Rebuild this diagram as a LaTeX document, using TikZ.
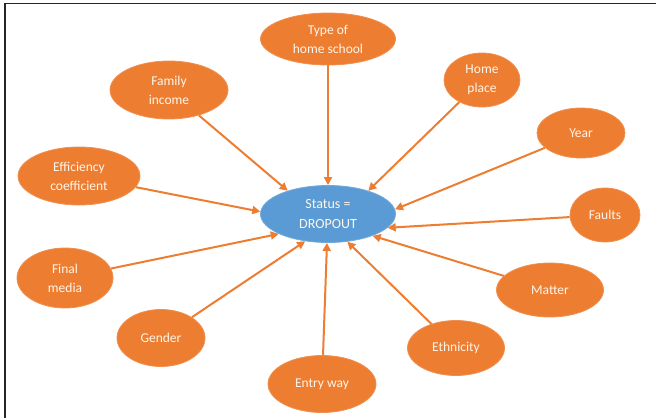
\documentclass[tikz,border=0pt]{standalone}
\usepackage{fontspec}
\setmainfont{Carlito}
\usetikzlibrary{shapes.geometric,arrows.meta}
\definecolor{ora}{HTML}{ED7D31}
\definecolor{blu}{HTML}{5B9BD5}
\definecolor{txt}{HTML}{FFF6EA}
\begin{document}
\begin{tikzpicture}[x=1pt,y=-1pt,
  factor/.style={ellipse,fill=ora,draw=ora!85!white,line width=0.8pt,inner sep=0pt,text=txt,align=center,font=\fontsize{13.5}{19}\selectfont},
  target/.style={ellipse,fill=blu,draw=blu!85!white,line width=0.8pt,inner sep=0pt,text=txt,align=center,font=\fontsize{14}{19.5}\selectfont},
  link/.style={draw=ora,line width=2pt,-{Triangle[length=8pt,width=8pt]}}]
\useasboundingbox (0,0) rectangle (656,418);
\draw[line width=1.8pt,black!85] (5,418) -- (5,3.5) -- (656,3.5);
\node[target,minimum width=135,minimum height=57] (s) at (328,214) {Status =\\DROPOUT};
\node[factor,minimum width=135,minimum height=52] (type) at (328,39) {Type of\\home school};
\node[factor,minimum width=118,minimum height=58] (fam) at (169,90) {Family\\income};
\node[factor,minimum width=76,minimum height=54] (home) at (482,80) {Home\\place};
\node[factor,minimum width=88,minimum height=50] (year) at (581,133) {Year};
\node[factor,minimum width=122,minimum height=58] (eff) at (79,176) {Efficiency\\coefficient};
\node[factor,minimum width=70,minimum height=54] (faults) at (605,215) {Faults};
\node[factor,minimum width=96,minimum height=60] (final) at (65,278) {Final\\media};
\node[factor,minimum width=107,minimum height=54] (matter) at (550,290) {Matter};
\node[factor,minimum width=88,minimum height=57] (gender) at (161,338) {Gender};
\node[factor,minimum width=97,minimum height=55] (eth) at (456,348) {Ethnicity};
\node[factor,minimum width=108,minimum height=57] (entry) at (322,384) {Entry way};
\draw[link] (type) -- (s.90);
\draw[link] (fam) -- (s.150);
\draw[link] (home) -- (s.30);
\draw[link] (year) -- (s.4);
\draw[link] (eff) -- (s.178);
\draw[link] (faults) -- (s.-13);
\draw[link] (final) -- (s.-158);
\draw[link] (matter) -- (s.-26);
\draw[link] (gender) -- (s.-130);
\draw[link] (eth) -- (s.-55);
\draw[link] (entry) -- (s.-92);
\end{tikzpicture}
\end{document}
